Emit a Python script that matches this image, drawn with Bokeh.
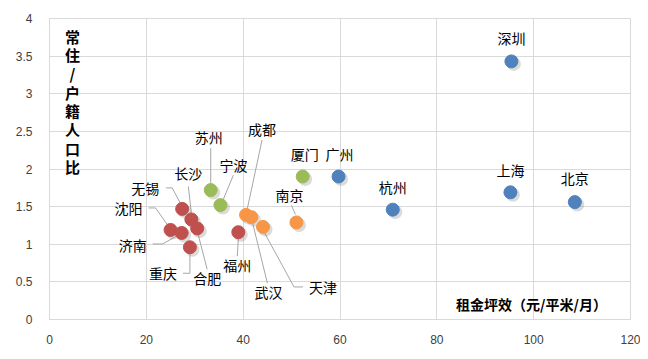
from bokeh.plotting import figure
from bokeh.models import Range1d, FixedTicker, CustomJSTickFormatter
from bokeh.core.properties import value
from bokeh.embed import file_html
from bokeh.resources import INLINE

# ---- data ----
cities = ["深圳", "上海", "北京", "杭州", "广州",
          "厦门", "苏州", "宁波",
          "南京", "成都", "武汉", "天津",
          "福州", "无锡", "长沙", "合肥", "沈阳", "济南", "重庆"]
rent = [95.4, 95.2, 108.5, 70.9, 59.7,
        52.3, 33.3, 35.3,
        51.0, 40.6, 41.7, 44.1,
        39.0, 27.4, 29.3, 30.5, 25.0, 27.3, 29.0]
ratio = [3.43, 1.69, 1.56, 1.46, 1.90,
         1.90, 1.72, 1.52,
         1.29, 1.39, 1.36, 1.23,
         1.16, 1.47, 1.33, 1.21, 1.19, 1.15, 0.96]
tier = ["A", "A", "A", "A", "A",
        "B", "B", "B",
        "C", "C", "C", "C",
        "D", "D", "D", "D", "D", "D", "D"]
x_ticks = [0, 20, 40, 60, 80, 100, 120]
y_ticks = [0, 0.5, 1, 1.5, 2, 2.5, 3, 3.5, 4]
x_title = "租金坪效（元/平米/月）"
y_title = "常住/户籍人口比"

# ---- style ----
tier_color = {"A": "#4F81BD", "B": "#9BBB59", "C": "#F79646", "D": "#C0504D"}
W, H = 640, 351
BL, BR, BT, BB = 49, 10, 18, 32
FW, FH = W - BL - BR, H - BT - BB
X0, X1, Y0, Y1 = 0, 120, 0, 4
sx = FW / (X1 - X0)
sy = FH / (Y1 - Y0)

# label offsets (pixels, y down) and leader polylines relative to point
label_off = {
    "深圳": (0, -23), "上海": (0, -22), "北京": (0, -24), "杭州": (0, -23),
    "广州": (1, -23), "厦门": (2, -23), "南京": (-7, -27), "苏州": (-2, -53),
    "宁波": (13, -40), "成都": (16, -86), "长沙": (-3, -46), "无锡": (-37, -21),
    "沈阳": (-42, -22), "济南": (-49, 12), "重庆": (-27, 26), "合肥": (10, 50),
    "福州": (-1, 33), "武汉": (17, 75), "天津": (60, 60),
}
leaders = {
    "南京": [(-5, -17), (-1, -8)],
    "苏州": [(0, -42), (0, -7)],
    "宁波": [(13, -30), (3, -6)],
    "成都": [(16, -75), (1, -5)],
    "长沙": [(-3, -33), (0, -6)],
    "无锡": [(-16, -21), (-10, -21), (-2, -6)],
    "沈阳": [(-22, -22), (-15, -22), (-3, -5)],
    "济南": [(-29, 11), (-19, 11), (-5, 3)],
    "重庆": [(-7, 26), (0, 26), (0, 5)],
    "合肥": [(10, 41), (1, 6)],
    "福州": [(-1, 24), (0, 6)],
    "武汉": [(16, 66), (1, 5)],
    "天津": [(40, 60), (31, 60), (1, 5)],
}


def px2data(xv, yv, dx, dy):
    return xv + dx / sx, yv - dy / sy


p = figure(width=W, height=H, output_backend="svg", toolbar_location=None,
           x_range=Range1d(X0, X1), y_range=Range1d(Y0, Y1),
           min_border_left=BL, min_border_right=BR, min_border_top=BT, min_border_bottom=BB)
p.outline_line_color = "#D9D9D9"
p.background_fill_color = "white"
p.border_fill_color = "white"

for ax, ticks in ((p.xaxis, x_ticks), (p.yaxis, y_ticks)):
    ax.ticker = FixedTicker(ticks=ticks)
    ax.formatter = CustomJSTickFormatter(code="return tick.toString();")
    ax.major_tick_line_color = None
    ax.minor_tick_line_color = None
    ax.axis_line_color = "#D9D9D9"
    ax.major_label_text_font = "Liberation Sans"
    ax.major_label_text_font_size = "12px"
    ax.major_label_text_color = "#404040"
p.yaxis.major_label_standoff = 11
p.xaxis.major_label_standoff = 9
p.xgrid.grid_line_color = "#D9D9D9"
p.ygrid.grid_line_color = "#D9D9D9"
p.xgrid.ticker = FixedTicker(ticks=x_ticks)
p.ygrid.ticker = FixedTicker(ticks=y_ticks)

# leader lines
lxs, lys = [], []
for c, xv, yv in zip(cities, rent, ratio):
    if c in leaders:
        pts = [px2data(xv, yv, dx, dy) for dx, dy in leaders[c]]
        lxs.append([q[0] for q in pts])
        lys.append([q[1] for q in pts])
p.multi_line(lxs, lys, line_color="#A6A6A6", line_width=1)

# points with shadow
colors = [tier_color[t] for t in tier]
shx = [px2data(xv, yv, 2.5, 2.5)[0] for xv, yv in zip(rent, ratio)]
shy = [px2data(xv, yv, 2.5, 2.5)[1] for xv, yv in zip(rent, ratio)]
p.scatter(shx, shy, size=14, fill_color="#7F7F7F", fill_alpha=0.28, line_color=None)
p.scatter(rent, ratio, size=13, fill_color=colors, line_color=colors)

# data labels
lx = [px2data(xv, yv, *label_off[c])[0] for c, xv, yv in zip(cities, rent, ratio)]
ly = [px2data(xv, yv, *label_off[c])[1] for c, xv, yv in zip(cities, rent, ratio)]
p.text(lx, ly, text=cities, text_align="center", text_baseline="middle",
       text_font=value("Noto Sans CJK SC"), text_font_size="14px", text_color="#000000")

# axis titles inside plot
tx, ty = px2data(X0, Y1, 23, 7)
p.text([tx], [ty], text=["\n".join(list(y_title))], text_align="center", text_baseline="top",
       text_font=value("Noto Sans CJK SC"), text_font_size="15px", text_font_style="bold",
       text_line_height=0.89, text_color="#000000")
qx, qy = px2data(X0, Y0, 482, -16)
p.text([qx], [qy], text=[x_title], text_align="center", text_baseline="middle",
       text_font=value("Noto Sans CJK SC"), text_font_size="14px", text_font_style="bold",
       text_color="#000000")

open("out.html", "w").write(file_html(p, INLINE))
